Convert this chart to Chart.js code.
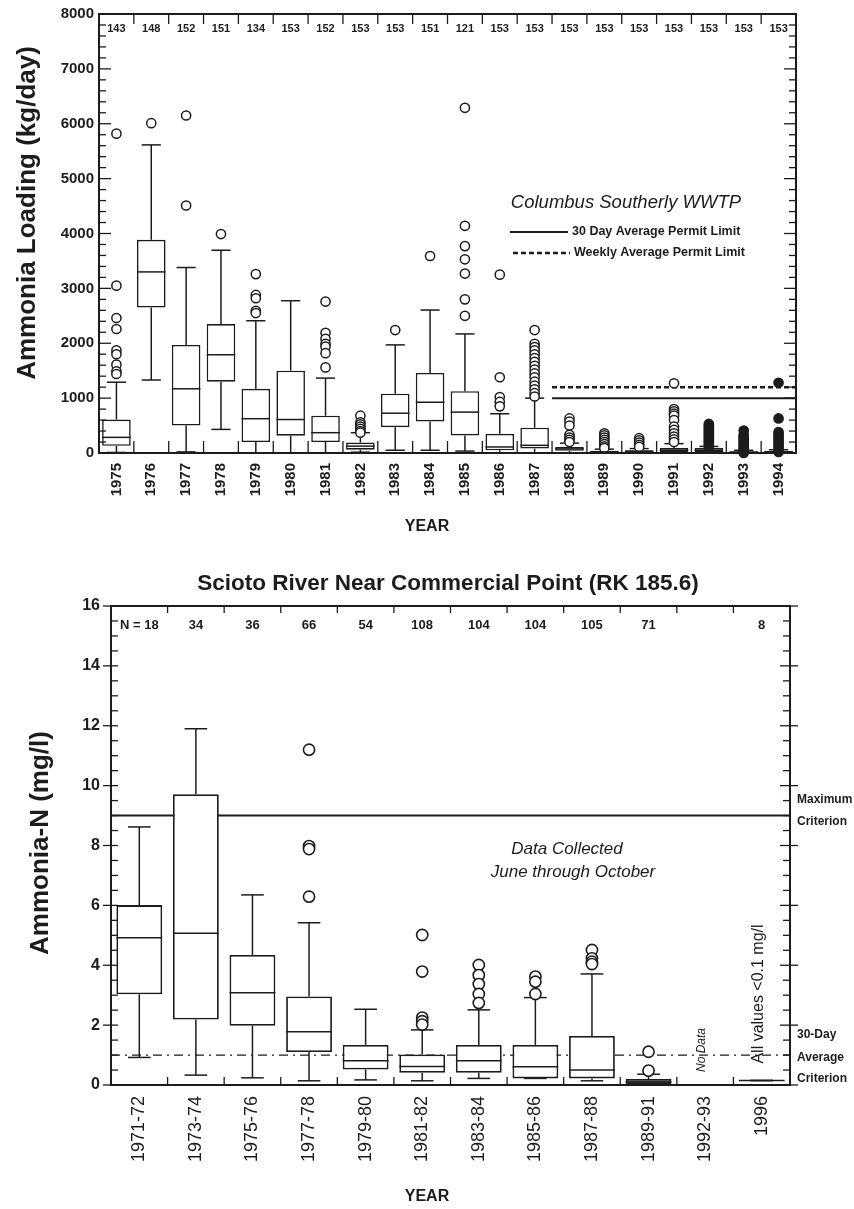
<!DOCTYPE html>
<html>
<head>
<meta charset="utf-8">
<script src="https://cdn.jsdelivr.net/npm/chart.js@4.4.1/dist/chart.umd.min.js"></script>
<style>
  body { margin: 0; background: #fff; }
  #wrap { position: relative; width: 854px; height: 1209px; background: #fff; }
  canvas { position: absolute; left: 0; }
  #loadChart { top: 0; }
  #riverChart { top: 550px; }
</style>
</head>
<body>
<div id="wrap">
  <canvas id="loadChart" width="854" height="550"></canvas>
  <canvas id="riverChart" width="854" height="659"></canvas>
</div>
<script>
// ---------- Панель 1: Columbus Southerly WWTP, навантаження амонію ----------
const loadYears = ['1975','1976','1977','1978','1979','1980','1981','1982','1983','1984',
                   '1985','1986','1987','1988','1989','1990','1991','1992','1993','1994'];
const loadN = [143,148,152,151,134,153,152,153,153,151,121,153,153,153,153,153,153,153,153,153];
const loadLow    = [10,1330,20,430,0,0,0,15,50,50,35,0,0,0,0,0,0,0,0,0];
const loadQ1     = [130,2650,500,1300,200,315,200,60,470,575,320,50,80,40,5,10,20,20,5,5];
const loadMedian = [285,3300,1170,1790,625,610,370,125,725,925,745,110,140,75,20,30,50,50,15,20];
const loadQ3     = [610,3885,1970,2350,1170,1500,680,190,1080,1460,1125,350,460,110,40,50,90,90,30,40];
const loadHigh   = [1290,5615,3380,3695,2410,2775,1365,370,1970,2605,2170,715,1000,180,70,80,170,120,50,60];
// окремі викиди (порожні кола)
const loadOutliers = [
  [5820,3050,2460,2260,1870,1800,1610,1490,1440],
  [6010],
  [6150,4510],
  [3990],
  [3260,2880,2820,2590,2550],
  [],
  [2760,2190,2080,1990,1940,1820,1560],
  [680,560,520,480,440,400,370],
  [2240],
  [3590],
  [6290,4140,3770,3530,3270,2800,2500],
  [3250,1380,1020,930,850],
  [2240,1990,1930,1870,1800,1730,1660,1590,1520,1450,1380,1300,1230,1160,1090,1030],
  [630,570,500,330,280,240,200],
  [360,320,280,240,200,160,120,90],
  [270,230,190,150,110],
  [1270,800,760,720,680,600,480,420,360,300,250,200],
  [], [], []
];
// щільні скупчення викидів (зафарбовані)
const loadOutliersDense = [
  [],[],[],[],[],[],[],[],[],[],[],[],[],[],[],[],[],
  [530,500,470,440,410,380,350,320,290,260,230,200,170,140,110],
  [410,330,300,270,240,210,180,150,120,90,60,30,0],
  [1280,630,380,340,300,260,220,180,140,100,60,20]
];
const permit30Day = 1000;
const permitWeekly = 1200;
const permitFromYear = '1988';

// ---------- Панель 2: Scioto River near Commercial Point ----------
const rivPeriods = ['1971-72','1973-74','1975-76','1977-78','1979-80','1981-82',
                    '1983-84','1985-86','1987-88','1989-91','1992-93','1996'];
const rivN      = [18,34,36,66,54,108,104,104,105,71,null,8];
const rivLow    = [0.92,0.33,0.24,0.14,0.17,0.14,0.22,0.22,0.14,0.03,null,0.15];
const rivQ1     = [3.03,2.19,1.98,1.10,0.52,0.41,0.41,0.22,0.22,0.03,null,0.15];
const rivMedian = [4.92,5.07,3.08,1.78,0.81,0.62,0.81,0.61,0.50,0.10,null,0.15];
const rivQ3     = [6.01,9.71,4.34,2.96,1.34,1.02,1.34,1.34,1.64,0.20,null,0.15];
const rivHigh   = [8.62,11.9,6.35,5.42,2.53,1.84,2.51,2.92,3.71,0.36,null,0.15];
const rivOutliers = [
  [], [], [],
  [11.2,7.98,7.88,6.29],
  [],
  [5.01,3.79,2.25,2.13,2.02],
  [4.01,3.67,3.37,3.04,2.74],
  [3.62,3.45,3.04],
  [4.51,4.23,4.12,4.04],
  [1.11,0.48],
  [], []
];
const maxCriterion = 9;
const avgCriterion = 1;

const INK = '#1c1c1c';
const FONT = "'Liberation Sans', Arial, Helvetica, sans-serif";
Chart.defaults.font.family = FONT;
Chart.defaults.color = INK;

function pointsFrom(labels, lists) {
  const pts = [];
  lists.forEach((vals, i) => vals.forEach(v => pts.push({ x: labels[i], y: v })));
  return pts;
}

function hline(ctx, x1, y1, x2, y2) {
  ctx.beginPath();
  ctx.moveTo(x1, y1);
  ctx.lineTo(x2, y2);
  ctx.stroke();
}

function text(ctx, str, x, y, font, align, rot) {
  ctx.save();
  ctx.translate(x, y);
  if (rot) ctx.rotate(rot);
  ctx.font = font;
  ctx.fillStyle = INK;
  ctx.textAlign = align || 'center';
  ctx.textBaseline = 'middle';
  ctx.fillText(str, 0, 0);
  ctx.restore();
}

// вуса і медіани ящиків
function drawWhiskers(chart, box, capPart, lw) {
  const {ctx, scales: {x, y}} = chart;
  const step = x.getPixelForValue(1) - x.getPixelForValue(0);
  const cap = step * capPart / 2;
  ctx.save();
  ctx.strokeStyle = INK;
  ctx.lineWidth = lw;
  box.q1.forEach((q1, i) => {
    if (q1 === null) return;
    const cx = x.getPixelForValue(i);
    const yl = y.getPixelForValue(box.low[i]);
    const yh = y.getPixelForValue(box.high[i]);
    hline(ctx, cx, yl, cx, y.getPixelForValue(q1));
    hline(ctx, cx, y.getPixelForValue(box.q3[i]), cx, yh);
    hline(ctx, cx - cap, yl, cx + cap, yl);
    hline(ctx, cx - cap, yh, cx + cap, yh);
  });
  ctx.restore();
}

function drawMedians(chart, box, boxPart, lw) {
  const {ctx, scales: {x, y}} = chart;
  const step = x.getPixelForValue(1) - x.getPixelForValue(0);
  const half = step * boxPart / 2;
  ctx.save();
  ctx.strokeStyle = INK;
  ctx.lineWidth = lw;
  box.med.forEach((m, i) => {
    if (m === null) return;
    const cx = x.getPixelForValue(i);
    const py = y.getPixelForValue(m);
    hline(ctx, cx - half, py, cx + half, py);
  });
  ctx.restore();
}

function boundaries(chart) {
  const x = chart.scales.x;
  const out = [];
  for (let i = 1; i < x.getLabels().length; i++) {
    out.push((x.getPixelForValue(i - 1) + x.getPixelForValue(i)) / 2);
  }
  return out;
}

// ---------- Панель 1 ----------
const loadBox = { low: loadLow, q1: loadQ1, med: loadMedian, q3: loadQ3, high: loadHigh };

const loadDecor = {
  id: 'loadDecor',
  beforeDatasetsDraw(chart) {
    const {ctx, chartArea, scales: {x, y}} = chart;
    drawWhiskers(chart, loadBox, 0.55, 1.5);
    // лінії дозволених лімітів
    const step = x.getPixelForValue(1) - x.getPixelForValue(0);
    const x0 = x.getPixelForValue(loadYears.indexOf(permitFromYear)) - step / 2;
    ctx.save();
    ctx.strokeStyle = INK;
    ctx.lineWidth = 2;
    hline(ctx, x0, y.getPixelForValue(permit30Day), chartArea.right, y.getPixelForValue(permit30Day));
    ctx.lineWidth = 2.5;
    ctx.setLineDash([5, 3]);
    hline(ctx, x0, y.getPixelForValue(permitWeekly), chartArea.right, y.getPixelForValue(permitWeekly));
    ctx.restore();
  },
  afterDatasetsDraw(chart) {
    drawMedians(chart, loadBox, 0.82, 1.5);
  },
  afterDraw(chart) {
    const {ctx, chartArea: {left, right, top, bottom}, scales: {x, y}} = chart;
    ctx.save();
    ctx.strokeStyle = INK;
    ctx.lineWidth = 2;
    ctx.strokeRect(left, top, right - left, bottom - top);
    ctx.lineWidth = 1.3;
    for (let v = 0; v <= 8000; v += 200) {
      const py = y.getPixelForValue(v);
      const len = v % 1000 === 0 ? 12 : 7;
      hline(ctx, left, py, left + len, py);
      hline(ctx, right - len, py, right, py);
    }
    boundaries(chart).forEach(bx => {
      hline(ctx, bx, top, bx, top + 10);
      hline(ctx, bx, bottom, bx, bottom - 12);
    });
    ctx.restore();

    loadN.forEach((n, i) => text(ctx, String(n), x.getPixelForValue(i), 29, 'bold 11px ' + FONT));
    text(ctx, 'Ammonia Loading (kg/day)', 28, 213, 'bold 26px ' + FONT, 'center', -Math.PI / 2);
    text(ctx, 'YEAR', 427, 527, 'bold 16px ' + FONT);

    // підпис і легенда
    text(ctx, 'Columbus Southerly WWTP', 626, 203, 'italic 18.5px ' + FONT);
    ctx.save();
    ctx.strokeStyle = INK;
    ctx.lineWidth = 1.8;
    hline(ctx, 510, 232, 568, 232);
    ctx.lineWidth = 2.5;
    ctx.setLineDash([5, 3]);
    hline(ctx, 513, 253, 570, 253);
    ctx.restore();
    text(ctx, '30 Day Average Permit Limit', 572, 232, 'bold 12.5px ' + FONT, 'left');
    text(ctx, 'Weekly Average Permit Limit', 574, 253, 'bold 12.5px ' + FONT, 'left');
  }
};

new Chart(document.getElementById('loadChart'), {
  type: 'bar',
  data: {
    labels: loadYears,
    datasets: [
      {
        type: 'scatter',
        data: pointsFrom(loadYears, loadOutliers),
        pointRadius: 4.6,
        borderWidth: 1.5,
        borderColor: INK,
        backgroundColor: '#fff',
        clip: false
      },
      {
        type: 'scatter',
        data: pointsFrom(loadYears, loadOutliersDense),
        pointRadius: 4.6,
        borderWidth: 1.5,
        borderColor: INK,
        backgroundColor: INK,
        clip: false
      },
      {
        type: 'bar',
        data: loadYears.map((_, i) => [loadQ1[i], loadQ3[i]]),
        backgroundColor: '#fff',
        borderColor: INK,
        borderWidth: 1.6,
        borderSkipped: false,
        barPercentage: 0.82,
        categoryPercentage: 1
      }
    ]
  },
  options: {
    responsive: false,
    animation: false,
    layout: { padding: { left: 0, right: 58, top: 12, bottom: 0 } },
    plugins: { legend: { display: false }, tooltip: { enabled: false } },
    scales: {
      x: {
        offset: true,
        grid: { display: false, drawTicks: false },
        border: { display: false },
        ticks: { autoSkip: false, maxRotation: 90, minRotation: 90, padding: 10,
                 font: { size: 15, weight: 'bold' } },
        afterFit: s => { s.height = 97; }
      },
      y: {
        min: 0,
        max: 8000,
        grid: { display: false, drawTicks: false },
        border: { display: false },
        ticks: { stepSize: 1000, padding: 5, font: { size: 15, weight: 'bold' },
                 callback: v => String(v) },
        afterFit: s => { s.width = 99; }
      }
    }
  },
  plugins: [loadDecor]
});

// ---------- Панель 2 ----------
const rivBox = { low: rivLow, q1: rivQ1, med: rivMedian, q3: rivQ3, high: rivHigh };

const riverDecor = {
  id: 'riverDecor',
  beforeDatasetsDraw(chart) {
    const {ctx, chartArea: {left, right}, scales: {y}} = chart;
    drawWhiskers(chart, rivBox, 0.4, 1.5);
    ctx.save();
    ctx.strokeStyle = INK;
    ctx.lineWidth = 2;
    hline(ctx, left, y.getPixelForValue(maxCriterion), right, y.getPixelForValue(maxCriterion));
    ctx.lineWidth = 1.2;
    ctx.setLineDash([9, 5, 2, 5]);
    hline(ctx, left, y.getPixelForValue(avgCriterion), right, y.getPixelForValue(avgCriterion));
    ctx.restore();
  },
  afterDatasetsDraw(chart) {
    drawMedians(chart, rivBox, 0.81, 1.5);
  },
  afterDraw(chart) {
    const {ctx, chartArea: {left, right, top, bottom}, scales: {x, y}} = chart;
    ctx.save();
    ctx.strokeStyle = INK;
    ctx.lineWidth = 2;
    ctx.strokeRect(left, top, right - left, bottom - top);
    ctx.lineWidth = 1.3;
    for (let v = 0; v <= 16; v += 0.5) {
      const py = y.getPixelForValue(v);
      if (v % 2 === 0) {
        hline(ctx, left - 8, py, left + 7, py);
        hline(ctx, right - 10, py, right + 8, py);
      } else {
        hline(ctx, left, py, left + 7, py);
        hline(ctx, right - 7, py, right, py);
      }
    }
    boundaries(chart).forEach(bx => {
      hline(ctx, bx, top, bx, top + 7);
      hline(ctx, bx, bottom, bx, bottom - 8);
    });
    ctx.restore();

    text(ctx, 'Scioto River Near Commercial Point (RK 185.6)', 448, 34, 'bold 22.5px ' + FONT);
    rivN.forEach((n, i) => {
      if (n === null) return;
      const label = i === 0 ? 'N = ' + n : String(n);
      text(ctx, label, x.getPixelForValue(i), 75, 'bold 13px ' + FONT);
    });
    text(ctx, 'Ammonia-N (mg/l)', 41, 293, 'bold 26px ' + FONT, 'center', -Math.PI / 2);
    text(ctx, 'YEAR', 427, 647, 'bold 16px ' + FONT);

    const small = 'bold 12px ' + FONT;
    text(ctx, 'Maximum', 797, 250, small, 'left');
    text(ctx, 'Criterion', 797, 272, small, 'left');
    text(ctx, '30-Day', 797, 485, small, 'left');
    text(ctx, 'Average', 797, 508, small, 'left');
    text(ctx, 'Criterion', 797, 529, small, 'left');

    text(ctx, 'Data Collected', 567, 299, 'italic 17px ' + FONT);
    text(ctx, 'June through October', 573, 322, 'italic 17px ' + FONT);
    text(ctx, 'No Data', 702, 500, 'italic 12px ' + FONT, 'center', -Math.PI / 2);
    text(ctx, 'All values <0.1 mg/l', 759, 444, '16px ' + FONT, 'center', -Math.PI / 2);
  }
};

new Chart(document.getElementById('riverChart'), {
  type: 'bar',
  data: {
    labels: rivPeriods,
    datasets: [
      {
        type: 'scatter',
        data: pointsFrom(rivPeriods, rivOutliers),
        pointRadius: 5.6,
        borderWidth: 1.6,
        borderColor: INK,
        backgroundColor: '#fff',
        clip: false
      },
      {
        type: 'bar',
        data: rivPeriods.map((_, i) => rivQ1[i] === null ? null : [rivQ1[i], rivQ3[i]]),
        backgroundColor: rivPeriods.map(p => p === '1989-91' ? '#444' : '#fff'),
        borderColor: INK,
        borderWidth: 1.8,
        borderSkipped: false,
        barPercentage: 0.81,
        categoryPercentage: 1
      }
    ]
  },
  options: {
    responsive: false,
    animation: false,
    layout: { padding: { left: 0, right: 64, top: 56, bottom: 0 } },
    plugins: { legend: { display: false }, tooltip: { enabled: false } },
    scales: {
      x: {
        offset: true,
        grid: { display: false, drawTicks: false },
        border: { display: false },
        ticks: { autoSkip: false, maxRotation: 90, minRotation: 90, padding: 11,
                 font: { size: 18 } },
        afterFit: s => { s.height = 124; }
      },
      y: {
        min: 0,
        max: 16,
        grid: { display: false, drawTicks: false },
        border: { display: false },
        ticks: { stepSize: 2, padding: 11, font: { size: 16, weight: 'bold' },
                 callback: v => String(v) },
        afterFit: s => { s.width = 111; }
      }
    }
  },
  plugins: [riverDecor]
});
</script>
</body>
</html>
